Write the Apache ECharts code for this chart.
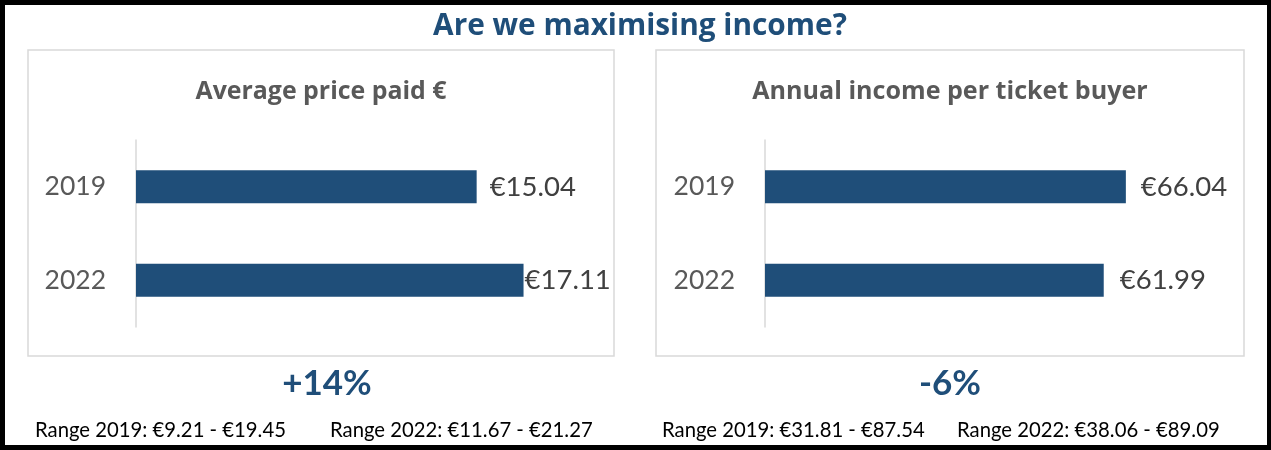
<!DOCTYPE html>
<html>
<head>
<meta charset="utf-8">
<script src="https://cdn.jsdelivr.net/npm/echarts@6/dist/echarts.min.js"></script>
<style>
  html, body { margin: 0; padding: 0; background: #fff; }
  #chart { width: 1271px; height: 450px; }
</style>
</head>
<body>
<div id="chart"></div>
<script>
  // data
  const years = ['2019', '2022'];
  const avgPrice = [15.04, 17.11];
  const incomePerBuyer = [66.04, 61.99];
  const priceRange = [[9.21, 19.45], [11.67, 21.27]];
  const incomeRange = [[31.81, 87.54], [38.06, 89.09]];

  const mainTitle = 'Are we maximising income?';
  const panelTitles = ['Average price paid €', 'Annual income per ticket buyer'];

  const FONT = 'Lato, "Open Sans", sans-serif';
  const HEAD_FONT = '"Open Sans", Lato, sans-serif';
  const BLUE = '#1f4e79';
  const GREY = '#595959';

  const eur = v => '€' + v.toFixed(2);
  const pct = arr => {
    const p = Math.round((arr[1] / arr[0] - 1) * 100);
    return (p > 0 ? '+' : '') + p + '%';
  };
  const rangeText = (y, r) => 'Range ' + y + ': ' + eur(r[0]) + ' - ' + eur(r[1]);

  // label gap after each bar (the 2022 price label sits right on the bar end)
  const labelGaps = [[13, 1], [15, 16]];

  const makeSeries = (values, idx) => ({
    type: 'bar',
    xAxisIndex: idx,
    yAxisIndex: idx,
    barWidth: 33,
    itemStyle: { color: BLUE },
    data: values.map((v, i) => ({
      value: v,
      label: { distance: labelGaps[idx][i] }
    })),
    label: {
      show: true,
      position: 'right',
      fontFamily: FONT,
      fontSize: 27.5,
      color: '#404040',
      formatter: p => eur(p.value)
    }
  });

  const makeYAxis = idx => ({
    type: 'category',
    gridIndex: idx,
    data: years,
    inverse: true,
    axisLine: { show: true, lineStyle: { color: '#d9d9d9', width: 1.5 } },
    axisTick: { show: false },
    axisLabel: { fontFamily: FONT, fontSize: 26.5, color: GREY, margin: 30 }
  });

  const makeXAxis = (idx, max) => ({
    type: 'value',
    gridIndex: idx,
    min: 0,
    max: max,
    show: false,
    splitLine: { show: false }
  });

  const textEl = (x, y, text, opts) => ({
    type: 'text',
    x: x,
    y: y,
    style: Object.assign({
      text: text,
      fontFamily: FONT,
      fontSize: 20,
      fontWeight: 'normal',
      fill: '#000',
      align: 'center',
      verticalAlign: 'middle'
    }, opts)
  });

  const rangeStyle = { fontSize: 20.3, align: 'left' };

  const chart = echarts.init(document.getElementById('chart'));

  chart.setOption({
    animation: false,
    backgroundColor: '#fff',
    grid: [
      { left: 136, top: 140, width: 453, height: 187 },
      { left: 765, top: 140, width: 382.5, height: 187 }
    ],
    xAxis: [makeXAxis(0, 20), makeXAxis(1, 70)],
    yAxis: [makeYAxis(0), makeYAxis(1)],
    series: [makeSeries(avgPrice, 0), makeSeries(incomePerBuyer, 1)],
    graphic: [
      {
        type: 'rect',
        shape: { x: 2.5, y: 2.5, width: 1267, height: 445 },
        style: { fill: 'none', stroke: '#000', lineWidth: 5 }
      },
      {
        type: 'rect',
        shape: { x: 28, y: 50, width: 586, height: 306 },
        style: { fill: 'none', stroke: '#d9d9d9', lineWidth: 1.5 }
      },
      {
        type: 'rect',
        shape: { x: 656, y: 50, width: 588, height: 306 },
        style: { fill: 'none', stroke: '#d9d9d9', lineWidth: 1.5 }
      },
      textEl(640, 27, mainTitle, { fontFamily: HEAD_FONT, fontSize: 29.8, fontWeight: 'bold', fill: BLUE }),
      textEl(321, 92, panelTitles[0], { fontFamily: HEAD_FONT, fontSize: 24.9, fontWeight: 'bold', fill: GREY }),
      textEl(950, 92, panelTitles[1], { fontFamily: HEAD_FONT, fontSize: 25.1, fontWeight: 'bold', fill: GREY }),
      textEl(327, 384, pct(avgPrice), { fontSize: 35, fontWeight: 'bold', fill: BLUE }),
      textEl(950, 384, pct(incomePerBuyer), { fontSize: 35, fontWeight: 'bold', fill: BLUE }),
      textEl(35, 430, rangeText(years[0], priceRange[0]), rangeStyle),
      textEl(330, 430, rangeText(years[1], priceRange[1]), rangeStyle),
      textEl(662, 430, rangeText(years[0], incomeRange[0]), rangeStyle),
      textEl(957, 430, rangeText(years[1], incomeRange[1]), rangeStyle)
    ]
  });
</script>
</body>
</html>
